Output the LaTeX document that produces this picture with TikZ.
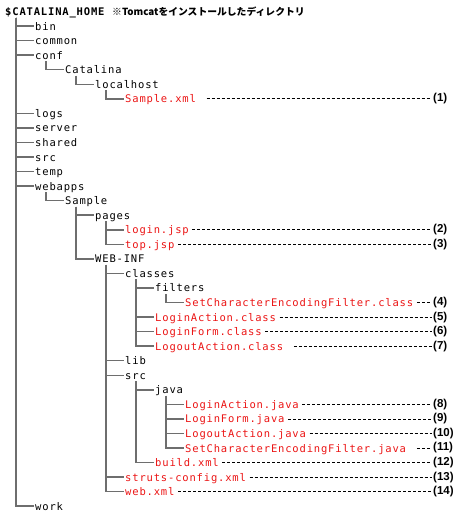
\documentclass[tikz,border=0pt]{standalone}
\usepackage{fontspec}
\usepackage{tikz}
\usetikzlibrary{positioning}
\setmainfont{Liberation Sans}
\newfontfamily\monofont{DejaVu Sans Mono}[LetterSpace=7.9]
\newfontfamily\monobold{DejaVu Sans Mono Bold}[LetterSpace=7.9]
\newfontfamily\jpfont{Noto Sans CJK JP}
\definecolor{rosso}{RGB}{235,20,20}
\definecolor{grigio}{RGB}{110,110,110}

\begin{document}
\begin{tikzpicture}[x = 1pt, y = 1pt,
    cartella/.style = {anchor = west, inner sep = 1.5pt, text height = 8pt, text depth = 0pt,
        font = \monofont\fontsize{10.5}{12}\selectfont},
    documento/.style = {cartella, text = rosso},
    ramo/.style = {grigio, line width = 1.5pt},
    rif/.style = {line width = 0.7pt, dash pattern = on 3pt off 2pt},
    numero/.style = {anchor = west, inner sep = 1.5pt, font = \bfseries\fontsize{11.5}{12}\selectfont}]
    % Parametri
    \pgfmathsetmacro{\passo}{14.55}
    \pgfmathsetmacro{\rientro}{30}
    \useasboundingbox (0,-502.5) rectangle (460,11.5);
    % Radice
    \node[cartella, font = \monobold\fontsize{10.5}{12}\selectfont] (root) at (3.5,0) {\$CATALINA\_HOME};
    \node[anchor = west, inner sep = 1.5pt, font = \jpfont\bfseries\fontsize{9.8}{12}\selectfont] (nota) at (110.5,0) {※Tomcatをインストールしたディレクトリ};
    % Cartelle
    \node[cartella] (bin) at ({3.5+1*\rientro},{-1*\passo}) {bin};
    \node[cartella] (common) at ({3.5+1*\rientro},{-2*\passo}) {common};
    \node[cartella] (conf) at ({3.5+1*\rientro},{-3*\passo}) {conf};
    \node[cartella] (catalina) at ({3.5+2*\rientro},{-4*\passo}) {Catalina};
    \node[cartella] (localhost) at ({3.5+3*\rientro},{-5*\passo}) {localhost};
    \node[documento] (samplexml) at ({3.5+4*\rientro},{-6*\passo}) {Sample.xml};
    \node[cartella] (logs) at ({3.5+1*\rientro},{-7*\passo}) {logs};
    \node[cartella] (server) at ({3.5+1*\rientro},{-8*\passo}) {server};
    \node[cartella] (shared) at ({3.5+1*\rientro},{-9*\passo}) {shared};
    \node[cartella] (src) at ({3.5+1*\rientro},{-10*\passo}) {src};
    \node[cartella] (temp) at ({3.5+1*\rientro},{-11*\passo}) {temp};
    \node[cartella] (webapps) at ({3.5+1*\rientro},{-12*\passo}) {webapps};
    \node[cartella] (sample) at ({3.5+2*\rientro},{-13*\passo}) {Sample};
    \node[cartella] (pages) at ({3.5+3*\rientro},{-14*\passo}) {pages};
    \node[documento] (login) at ({3.5+4*\rientro},{-15*\passo}) {login.jsp};
    \node[documento] (top) at ({3.5+4*\rientro},{-16*\passo}) {top.jsp};
    \node[cartella] (webinf) at ({3.5+3*\rientro},{-17*\passo}) {WEB-INF};
    \node[cartella] (classes) at ({3.5+4*\rientro},{-18*\passo}) {classes};
    \node[cartella] (filters) at ({3.5+5*\rientro},{-19*\passo}) {filters};
    \node[documento] (setcharclass) at ({3.5+6*\rientro},{-20*\passo}) {SetCharacterEncodingFilter.class};
    \node[documento] (loginclass) at ({3.5+5*\rientro},{-21*\passo}) {LoginAction.class};
    \node[documento] (formclass) at ({3.5+5*\rientro},{-22*\passo}) {LoginForm.class};
    \node[documento] (logoutclass) at ({3.5+5*\rientro},{-23*\passo}) {LogoutAction.class};
    \node[cartella] (lib) at ({3.5+4*\rientro},{-24*\passo}) {lib};
    \node[cartella] (srcj) at ({3.5+4*\rientro},{-25*\passo}) {src};
    \node[cartella] (java) at ({3.5+5*\rientro},{-26*\passo}) {java};
    \node[documento] (loginjava) at ({3.5+6*\rientro},{-27*\passo}) {LoginAction.java};
    \node[documento] (formjava) at ({3.5+6*\rientro},{-28*\passo}) {LoginForm.java};
    \node[documento] (logoutjava) at ({3.5+6*\rientro},{-29*\passo}) {LogoutAction.java};
    \node[documento] (setcharjava) at ({3.5+6*\rientro},{-30*\passo}) {SetCharacterEncodingFilter.java};
    \node[documento] (build) at ({3.5+5*\rientro},{-31*\passo}) {build.xml};
    \node[documento] (struts) at ({3.5+4*\rientro},{-32*\passo}) {struts-config.xml};
    \node[documento] (webxml) at ({3.5+4*\rientro},{-33*\passo}) {web.xml};
    \node[cartella] (work) at ({3.5+1*\rientro},{-34*\passo}) {work};
    % Rami
    \foreach \p/\c in {root/bin, root/common, root/conf, root/logs, root/server, root/shared,
        root/src, root/temp, root/webapps, root/work, conf/catalina, catalina/localhost,
        localhost/samplexml, webapps/sample, sample/pages, sample/webinf, pages/login, pages/top,
        webinf/classes, webinf/lib, webinf/srcj, webinf/struts, webinf/webxml,
        classes/filters, classes/loginclass, classes/formclass, classes/logoutclass,
        filters/setcharclass, srcj/java, srcj/build, java/loginjava, java/formjava,
        java/logoutjava, java/setcharjava}{
        \draw[ramo] ([shift = {(12.5pt,-6pt)}]\p.west) |- (\c.west);
    }
    % Numeri
    \foreach \n/\r in {1/6, 2/15, 3/16, 4/20, 5/21, 6/22, 7/23, 8/27, 9/28, 10/29, 11/30, 12/31, 13/32, 14/33}{
        \node[numero] (n\n) at (431.5,{-\r*\passo}) {(\n)};
    }
    % Tratteggi
    \foreach \f/\n/\g in {samplexml/1/9, login/2/2, top/3/2, setcharclass/4/2, loginclass/5/2,
        formclass/6/2, logoutclass/7/9, loginjava/8/2, formjava/9/2, logoutjava/10/2,
        setcharjava/11/9, build/12/2, struts/13/2, webxml/14/2}{
        \draw[rif] ([xshift = \g pt]\f.east) -- (n\n.west);
    }
\end{tikzpicture}
\end{document}
